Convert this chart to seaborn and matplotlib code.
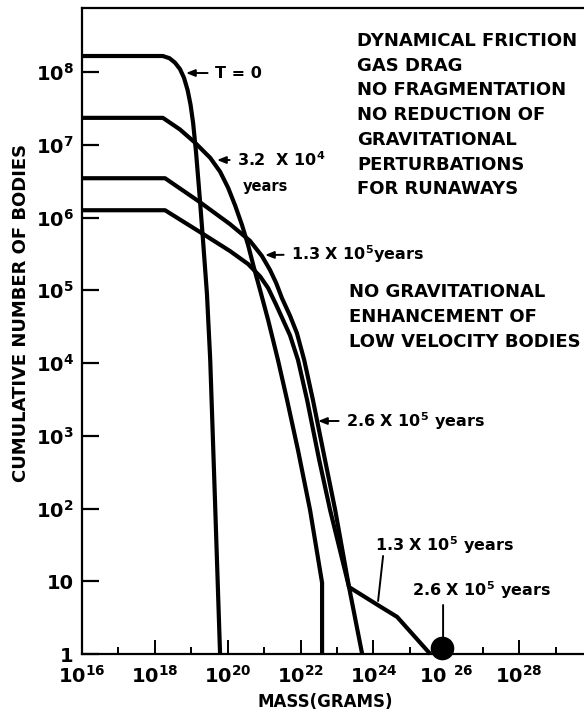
import numpy as np
import pandas as pd
import matplotlib
matplotlib.use('Agg')
import matplotlib.pyplot as plt
import seaborn as sns
from matplotlib.ticker import FixedLocator, NullFormatter, FixedFormatter

sns.set_theme(style='white')
plt.rcParams['font.family'] = ['DejaVu Sans']
plt.rcParams['font.weight'] = 'bold'
plt.rcParams['mathtext.fontset'] = 'dejavusans'
plt.rcParams['mathtext.default'] = 'bf'
plt.rcParams['text.color'] = 'black'
plt.rcParams['axes.labelcolor'] = 'black'
plt.rcParams['xtick.color'] = 'black'
plt.rcParams['ytick.color'] = 'black'

# ---- data (log10 mass in grams, log10 cumulative number of bodies) ----
t0_logm = [16.0, 18.22, 18.40, 18.55, 18.69, 18.80, 18.90, 18.98, 19.05, 19.13, 19.22, 19.32, 19.43, 19.52, 19.65, 19.79]
t0_logn = [8.22, 8.22, 8.19, 8.13, 8.04, 7.92, 7.75, 7.55, 7.30, 6.90, 6.35, 5.70, 4.95, 4.04, 2.12, 0.0]

t32e4_logm = [16.0, 18.22, 18.69, 19.10, 19.52, 19.79, 20.01, 20.20, 20.39, 20.56, 20.72, 20.89, 21.11, 21.38, 21.63, 21.93, 22.26, 22.59, 22.59]
t32e4_logn = [7.37, 7.37, 7.21, 7.03, 6.82, 6.63, 6.41, 6.17, 5.90, 5.62, 5.31, 5.00, 4.59, 4.04, 3.49, 2.80, 1.98, 0.98, 0.0]

t13e5_logm = [16.0, 18.28, 19.24, 20.06, 20.61, 20.94, 21.16, 21.33, 21.49, 21.71, 21.90, 22.10, 22.34, 22.67, 22.95, 23.33, 24.13, 24.65, 25.56]
t13e5_logn = [6.54, 6.54, 6.21, 5.91, 5.68, 5.47, 5.28, 5.10, 4.89, 4.65, 4.41, 4.04, 3.49, 2.67, 1.98, 0.92, 0.67, 0.51, 0.0]

t26e5_logm = [16.0, 18.28, 19.24, 20.06, 20.56, 20.89, 21.11, 21.33, 21.52, 21.71, 21.93, 22.18, 22.51, 22.81, 23.33, 23.69]
t26e5_logn = [6.10, 6.10, 5.80, 5.54, 5.36, 5.19, 5.03, 4.80, 4.59, 4.38, 4.04, 3.49, 2.67, 1.98, 0.92, 0.0]

runaway_logm = [25.89]
runaway_logn = [0.08]

x_ticks_major = [16, 18, 20, 22, 24, 26, 28]
x_tick_labels = [r'10$^{16}$', r'10$^{18}$', r'10$^{20}$', r'10$^{22}$', r'10$^{24}$', r'10 $^{26}$', r'10$^{28}$']
x_ticks_minor = [17, 19, 21, 23, 25, 27, 29]
y_ticks = [0, 1, 2, 3, 4, 5, 6, 7, 8]
y_tick_labels = ['1', '10', r'10$^2$', r'10$^3$', r'10$^4$', r'10$^5$', r'10$^6$', r'10$^7$', r'10$^8$']

notes_top = ['DYNAMICAL FRICTION', 'GAS DRAG', 'NO FRAGMENTATION', 'NO REDUCTION OF',
             'GRAVITATIONAL', 'PERTURBATIONS', 'FOR RUNAWAYS']
notes_mid = ['NO GRAVITATIONAL', 'ENHANCEMENT OF', 'LOW VELOCITY BODIES']

W, H = 584, 721
fig = plt.figure(figsize=(W / 100, H / 100), dpi=100)
ax = fig.add_axes([82 / W, 1 - 654 / H, 1 - 82 / W, (654 - 8) / H])

curves = [(t0_logm, t0_logn), (t32e4_logm, t32e4_logn),
          (t13e5_logm, t13e5_logn), (t26e5_logm, t26e5_logn)]
for lm, ln in curves:
    df = pd.DataFrame({'m': np.power(10.0, lm), 'n': np.power(10.0, ln)})
    sns.lineplot(data=df, x='m', y='n', sort=False, estimator=None, color='black',
                 lw=3.0, ax=ax, solid_joinstyle='round', solid_capstyle='butt', clip_on=False)

ax.plot(np.power(10.0, runaway_logm), np.power(10.0, runaway_logn), 'o', color='black',
        ms=16, clip_on=False, zorder=5)

ax.set_xscale('log')
ax.set_yscale('log')
ax.set_xlim(10 ** 16, 10 ** 29.78)
ax.set_ylim(1, 10 ** 8.88)

ax.xaxis.set_major_locator(FixedLocator([10.0 ** v for v in x_ticks_major]))
ax.xaxis.set_major_formatter(FixedFormatter(x_tick_labels))
ax.xaxis.set_minor_locator(FixedLocator([10.0 ** v for v in x_ticks_minor]))
ax.xaxis.set_minor_formatter(NullFormatter())
ax.yaxis.set_major_locator(FixedLocator([10.0 ** v for v in y_ticks]))
ax.yaxis.set_major_formatter(FixedFormatter(y_tick_labels))
ax.yaxis.set_minor_locator(FixedLocator([]))

for s in ['left', 'bottom', 'top']:
    ax.spines[s].set_visible(True)
    ax.spines[s].set_color('black')
    ax.spines[s].set_linewidth(1.6)
ax.spines['right'].set_visible(False)

ax.tick_params(axis='y', which='major', direction='in', length=12, width=1.6,
               labelsize=14, pad=6, colors='black', left=True)
ax.tick_params(axis='x', which='major', direction='in', length=10, width=1.4,
               labelsize=14, pad=8, colors='black', bottom=True)
ax.tick_params(axis='x', which='minor', direction='in', length=5, width=1.4, bottom=True)

ax.set_xlabel('MASS(GRAMS)', fontsize=12, fontweight='bold', color='black')
ax.xaxis.set_label_coords((325 - 82) / (W - 82), -(693 - 654) / (654 - 8))
ax.set_ylabel('CUMULATIVE NUMBER OF BODIES', fontsize=13, fontweight='bold', color='black')
ax.yaxis.set_label_coords(-(82 - 30) / (W - 82), (654 - 313) / (654 - 8))


def px2data(x, y):
    return 10 ** (16 + (x - 82) / 36.42), 10 ** ((654 - y) / 72.75)


arrow = dict(arrowstyle='-|>,head_length=0.45,head_width=0.18', lw=1.4, color='black',
             shrinkA=3, shrinkB=0)
fs = 11.5
ax.annotate('T = 0', xy=px2data(186, 73), xytext=px2data(215, 73), va='center', ha='left',
            fontsize=fs, fontweight='bold', arrowprops=arrow)
ax.annotate(r'3.2  X 10$^4$', xy=px2data(217, 160), xytext=px2data(237, 160), va='center',
            ha='left', fontsize=fs, fontweight='bold', arrowprops=arrow)
ax.text(*px2data(265, 186), 'years', va='center', ha='center', fontsize=fs - 1, fontweight='bold')
ax.annotate(r'1.3 X 10$^5$years', xy=px2data(265, 255), xytext=px2data(291, 254), va='center',
            ha='left', fontsize=fs, fontweight='bold', arrowprops=arrow)
ax.annotate(r'2.6 X 10$^5$ years', xy=px2data(318, 421), xytext=px2data(346, 421), va='center',
            ha='left', fontsize=fs, fontweight='bold', arrowprops=arrow)
ax.text(*px2data(375, 545), r'1.3 X 10$^5$ years', va='center', ha='left', fontsize=fs,
        fontweight='bold')
ax.annotate('', xy=px2data(378, 601), xytext=px2data(383, 556),
            arrowprops=dict(arrowstyle='-', lw=1.4, color='black', shrinkA=0, shrinkB=0))
ax.text(*px2data(412, 590), r'2.6 X 10$^5$ years', va='center', ha='left', fontsize=fs,
        fontweight='bold')
ax.annotate('', xy=px2data(443, 637), xytext=px2data(443, 605),
            arrowprops=dict(arrowstyle='-', lw=1.4, color='black', shrinkA=0, shrinkB=0))

for i, line in enumerate(notes_top):
    fig.text(357 / W, 1 - (41 + 24.7 * i) / H, line, fontsize=13, fontweight='bold',
             va='center', ha='left', color='black')
for i, line in enumerate(notes_mid):
    fig.text(349 / W, 1 - (292 + 25 * i) / H, line, fontsize=13, fontweight='bold',
             va='center', ha='left', color='black')

fig.savefig('out.png', dpi=100, facecolor='white')
